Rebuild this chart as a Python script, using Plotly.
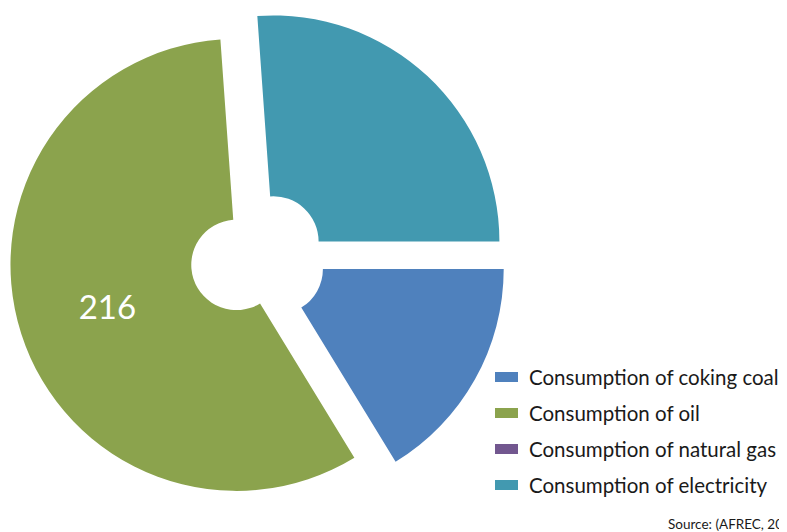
import plotly.graph_objects as go

W, H = 787, 532
OFF = 8  # default page body margin of the written html

categories = ["Consumption of coking coal", "Consumption of oil",
              "Consumption of natural gas", "Consumption of electricity"]
values = [61, 216, 0, 98]
colors = ["#4F81BD", "#8BA34D", "#72578F", "#4299B0"]
shown_labels = [False, True, False, False]

FONT = "Lato"

# pie placement (pixels in the window)
cx, cy, r, pull = 258 - OFF, 258 - OFF, 226, 0.1
half = r * (1 + pull)
dom_x = [(cx - half) / W, (cx + half) / W]
dom_y = [1 - (cy + half) / H, 1 - (cy - half) / H]

texttemplate = ["%{value}" if s else "" for s in shown_labels]

fig = go.Figure(go.Pie(
    labels=categories,
    values=values,
    marker=dict(colors=colors, line=dict(width=0)),
    hole=0.2,
    pull=[pull] * len(values),
    sort=False,
    direction="clockwise",
    rotation=90,
    texttemplate=texttemplate,
    textposition="inside",
    insidetextorientation="horizontal",
    insidetextfont=dict(color="white", size=33, family=FONT),
    showlegend=False,
    domain=dict(x=dom_x, y=dom_y),
))

# custom legend
shapes = []
annotations = []
row0, step = 377 - OFF, 36
for i, (cat, col) in enumerate(zip(categories, colors)):
    yc = row0 + i * step
    shapes.append(dict(type="rect", xref="paper", yref="paper",
                       x0=(495 - OFF) / W, x1=(518 - OFF) / W,
                       y0=1 - (yc + 5) / H, y1=1 - (yc - 5) / H,
                       fillcolor=col, line=dict(width=0)))
    annotations.append(dict(text=cat, xref="paper", yref="paper",
                            x=(527 - OFF) / W, y=1 - yc / H, xanchor="left", yanchor="middle",
                            showarrow=False,
                            font=dict(family=FONT, size=20.5, color="#1a1a1a")))

annotations.append(dict(text="Source: (AFREC, 2015)", xref="paper", yref="paper",
                        x=(666 - OFF) / W, y=1 - (524 - OFF) / H, xanchor="left", yanchor="middle",
                        showarrow=False,
                        font=dict(family=FONT, size=13.5, color="#1a1a1a")))

fig.update_layout(
    width=W, height=H,
    margin=dict(l=0, r=0, t=0, b=0),
    paper_bgcolor="white", plot_bgcolor="white",
    shapes=shapes, annotations=annotations,
    showlegend=False,
)

fig.write_html("out.html")
